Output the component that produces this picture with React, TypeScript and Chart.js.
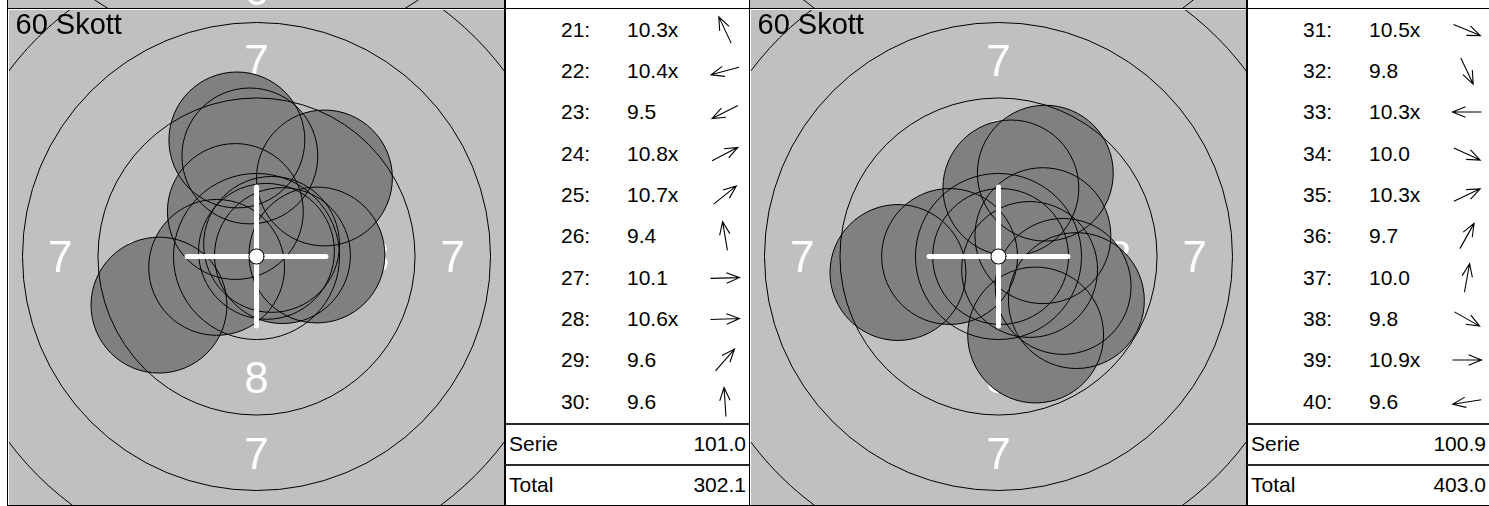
import React, { useEffect, useRef } from "react";
import { Chart, registerables } from "chart.js";

Chart.register(...registerables);

// ---------------- data ----------------
const SHOT_NO_A = ["21", "22", "23", "24", "25", "26", "27", "28", "29", "30"];
const SCORE_A = ["10.3x", "10.4x", "9.5", "10.8x", "10.7x", "9.4", "10.1", "10.6x", "9.6", "9.6"];
const SHOT_X_A = [-0.70, -1.32, -3.23, 0.33, 0.50, -0.65, 2.0, 0.86, 2.25, -0.22];
const SHOT_Y_A = [1.49, -0.36, -1.61, 0.17, 0.40, 3.86, 0.05, 0.03, 2.60, 3.33];
const SERIE_A = "101.0";
const TOTAL_A = "302.1";

const SHOT_NO_B = ["31", "32", "33", "34", "35", "36", "37", "38", "39", "40"];
const SCORE_B = ["10.5x", "9.8", "10.3x", "10.0", "10.3x", "9.7", "10.0", "9.8", "10.9x", "9.6"];
const SHOT_X_B = [1.03, 1.23, -1.62, 2.14, 1.47, 1.55, 0.41, 2.58, 0.07, -3.33];
const SHOT_Y_B = [-0.43, -2.60, 0.0, -0.99, 0.69, 2.76, 2.27, -1.46, 0.0, -0.53];
const SERIE_B = "100.9";
const TOTAL_B = "403.0";

const TITLE = "60 Skott";
const SUM_LABELS = ["Serie", "Total"];
const RING_RADII = [0.25, 2.75, 5.25, 7.75, 10.25, 12.75]; // mm
const RING_NUMBERS = ["8", "7", "6"];
const RING_NUMBER_R = [4.0, 6.5, 9.0]; // mm
const PELLET_R = 2.25; // mm
const VIEW = 8.23; // mm half-width of the view

// ---------------- styles ----------------
const FONT = '"Liberation Sans", Arial, Helvetica, sans-serif';
const GRAY = "#c0c0c0";
const SHOT_FILL = "#808080";
const NUM_FONT_PX = 44;

type PrevStrip = { rings: number[]; digit: string | null };

function makePlugin(prev: PrevStrip) {
  return {
    id: "target",
    beforeDatasetsDraw(chart: any) {
      const { ctx, chartArea: a, scales } = chart;
      const cx = scales.x.getPixelForValue(0);
      const cy = scales.y.getPixelForValue(0);
      const ppm = scales.x.getPixelForValue(1) - cx;
      const H = a.bottom - a.top;
      const W = a.right - a.left;

      // strip of the previous row above
      ctx.save();
      ctx.beginPath();
      ctx.rect(a.left, 0, W, a.top);
      ctx.clip();
      ctx.fillStyle = GRAY;
      ctx.fillRect(a.left, 0, W, a.top);
      const pcy = cy - H;
      if (prev.digit) {
        ctx.fillStyle = "#fff";
        ctx.font = `${NUM_FONT_PX}px ${FONT}`;
        ctx.textAlign = "center";
        ctx.textBaseline = "alphabetic";
        ctx.fillText(prev.digit, cx, 5);
      }
      ctx.strokeStyle = "#000";
      ctx.lineWidth = 1;
      prev.rings.forEach((r) => {
        ctx.beginPath();
        ctx.arc(cx, pcy, r * ppm, 0, Math.PI * 2);
        ctx.stroke();
      });
      ctx.restore();

      // target background + numbers
      ctx.save();
      ctx.beginPath();
      ctx.rect(a.left, a.top, W, H);
      ctx.clip();
      ctx.fillStyle = GRAY;
      ctx.fillRect(a.left, a.top, W, H);
      ctx.fillStyle = "#fff";
      ctx.font = `${NUM_FONT_PX}px ${FONT}`;
      ctx.textAlign = "center";
      ctx.textBaseline = "alphabetic";
      const dirs = [
        [0, -1],
        [0, 1],
        [-1, 0],
        [1, 0],
      ];
      RING_NUMBERS.forEach((n, i) => {
        const d = RING_NUMBER_R[i] * ppm;
        dirs.forEach(([dx, dy]) => {
          ctx.fillText(n, cx + dx * d, cy + dy * d + 0.358 * NUM_FONT_PX);
        });
      });
      ctx.restore();
    },
    afterDatasetDraw(chart: any, args: any) {
      if (chart.data.datasets[args.index].label !== "fill") return;
      const { ctx, chartArea: a, scales } = chart;
      const cx = scales.x.getPixelForValue(0);
      const cy = scales.y.getPixelForValue(0);
      const ppm = scales.x.getPixelForValue(1) - cx;
      ctx.save();
      ctx.beginPath();
      ctx.rect(a.left, a.top, a.right - a.left, a.bottom - a.top);
      ctx.clip();
      ctx.strokeStyle = "#000";
      ctx.lineWidth = 1;
      RING_RADII.forEach((r) => {
        ctx.beginPath();
        ctx.arc(cx, cy, r * ppm, 0, Math.PI * 2);
        ctx.stroke();
      });
      ctx.restore();
    },
    afterDatasetsDraw(chart: any) {
      const { ctx, chartArea: a, scales } = chart;
      const cx = scales.x.getPixelForValue(0);
      const cy = scales.y.getPixelForValue(0);
      const ppm = scales.x.getPixelForValue(1) - cx;
      const arm = 2.3 * ppm;
      ctx.save();
      ctx.strokeStyle = "#fff";
      ctx.lineWidth = 5;
      ctx.lineCap = "round";
      ctx.beginPath();
      ctx.moveTo(cx - arm, cy);
      ctx.lineTo(cx + arm, cy);
      ctx.moveTo(cx, cy - arm);
      ctx.lineTo(cx, cy + arm);
      ctx.stroke();
      ctx.beginPath();
      ctx.arc(cx, cy, RING_RADII[0] * ppm, 0, Math.PI * 2);
      ctx.fillStyle = "#fff";
      ctx.fill();
      ctx.strokeStyle = "#000";
      ctx.lineWidth = 1;
      ctx.stroke();

      // frame
      const bottom = chart.height;
      ctx.lineCap = "butt";
      ctx.strokeStyle = "#fff";
      ctx.beginPath();
      ctx.moveTo(a.left + 0.5, a.top);
      ctx.lineTo(a.left + 0.5, a.bottom);
      ctx.moveTo(a.left, a.top + 1.5);
      ctx.lineTo(a.right, a.top + 1.5);
      ctx.stroke();
      ctx.strokeStyle = "#000";
      ctx.beginPath();
      ctx.moveTo(a.left - 0.5, 0);
      ctx.lineTo(a.left - 0.5, bottom);
      ctx.moveTo(a.right - 0.5, 0);
      ctx.lineTo(a.right - 0.5, bottom);
      ctx.moveTo(a.left - 1, a.top + 0.5);
      ctx.lineTo(a.right, a.top + 0.5);
      ctx.moveTo(a.left - 1, a.bottom + 0.5);
      ctx.lineTo(a.right, a.bottom + 0.5);
      ctx.stroke();
      ctx.restore();
    },
  };
}

function TargetPanel({ left, xs, ys, prev }: { left: number; xs: number[]; ys: number[]; prev: PrevStrip }) {
  const ref = useRef<HTMLCanvasElement>(null);
  useEffect(() => {
    const pts = xs.map((x, i) => ({ x, y: ys[i] }));
    const rFn = (c: any) => {
      const s = c.chart.scales.x;
      return s ? Math.abs(s.getPixelForValue(PELLET_R) - s.getPixelForValue(0)) : 0;
    };
    const chart = new Chart(ref.current as HTMLCanvasElement, {
      type: "scatter",
      data: {
        datasets: [
          {
            label: "outline",
            data: pts,
            order: 1,
            clip: 0,
            pointRadius: rFn,
            pointHoverRadius: rFn,
            pointBackgroundColor: "rgba(0,0,0,0)",
            pointBorderColor: "#000",
            pointBorderWidth: 1,
            backgroundColor: "rgba(0,0,0,0)",
            borderColor: "#000",
          } as any,
          {
            label: "fill",
            data: pts,
            order: 2,
            clip: 0,
            pointRadius: rFn,
            pointHoverRadius: rFn,
            pointBackgroundColor: SHOT_FILL,
            pointBorderWidth: 0,
            backgroundColor: SHOT_FILL,
            borderColor: "rgba(0,0,0,0)",
          } as any,
        ],
      },
      options: {
        responsive: false,
        animation: false,
        devicePixelRatio: 1,
        events: [],
        layout: { padding: { left: 8, top: 8, right: 0, bottom: 1 } },
        scales: {
          x: { type: "linear", min: -VIEW, max: VIEW, display: false },
          y: { type: "linear", min: -VIEW, max: VIEW, display: false },
        },
        plugins: { legend: { display: false }, tooltip: { enabled: false }, title: { display: false } },
      },
      plugins: [makePlugin(prev) as any],
    });
    return () => chart.destroy();
  }, []);
  return (
    <>
      <canvas
        ref={ref}
        width={505}
        height={506}
        style={{ position: "absolute", left, top: 0, width: 505, height: 506 }}
      />
      <div
        style={{
          position: "absolute",
          left: left + 15.5,
          top: 9.5,
          fontFamily: FONT,
          fontSize: 29,
          lineHeight: "29px",
          color: "#000",
          whiteSpace: "nowrap",
        }}
      >
        {TITLE}
      </div>
    </>
  );
}

function Arrow({ dx, dy, cx, cy }: { dx: number; dy: number; cx: number; cy: number }) {
  const L = 14.5;
  const Hd = 14;
  const ang = 0.38;
  const len = Math.hypot(dx, dy) || 1;
  const ux = dx / len;
  const uy = dy / len;
  const tx = 20 + ux * L;
  const ty = 20 + uy * L;
  const sx = 20 - ux * L;
  const sy = 20 - uy * L;
  const bx = -ux;
  const by = -uy;
  const rot = (a: number) => [bx * Math.cos(a) - by * Math.sin(a), bx * Math.sin(a) + by * Math.cos(a)];
  const [h1x, h1y] = rot(ang);
  const [h2x, h2y] = rot(-ang);
  const d = `M${sx} ${sy}L${tx} ${ty}M${tx + h1x * Hd} ${ty + h1y * Hd}L${tx} ${ty}L${tx + h2x * Hd} ${ty + h2y * Hd}`;
  return (
    <svg width={40} height={40} viewBox="0 0 40 40" style={{ position: "absolute", left: cx - 20, top: cy - 20 }}>
      <path d={d} stroke="#000" strokeWidth={1.1} fill="none" strokeLinejoin="miter" />
    </svg>
  );
}

function ScoreTable({
  left,
  width,
  nos,
  scores,
  xs,
  ys,
  serie,
  total,
}: {
  left: number;
  width: number;
  nos: string[];
  scores: string[];
  xs: number[];
  ys: number[];
  serie: string;
  total: string;
}) {
  const line = (top: number, h: number, color = "#000") => (
    <div style={{ position: "absolute", left: 0, top, width, height: h, background: color }} />
  );
  const sums = [serie, total];
  const sumCenters = [444, 485];
  return (
    <div
      style={{
        position: "absolute",
        left,
        top: 0,
        width,
        height: 506,
        fontFamily: FONT,
        fontSize: 21,
        color: "#000",
        background: "#fff",
      }}
    >
      <div style={{ position: "absolute", left: 0, top: 0, width: 1, height: 506, background: "#000" }} />
      {line(8, 1)}
      {line(423, 2, "#2a2a2a")}
      {line(464, 2, "#2a2a2a")}
      {line(505, 1)}
      {nos.map((n, i) => {
        const c = 29.5 + 41.35 * i;
        return (
          <React.Fragment key={n}>
            <div style={{ position: "absolute", left: 56, top: c - 20, height: 40, lineHeight: "40px" }}>{n}:</div>
            <div style={{ position: "absolute", left: 122, top: c - 20, height: 40, lineHeight: "40px" }}>
              {scores[i]}
            </div>
            <Arrow dx={xs[i]} dy={-ys[i]} cx={220} cy={c} />
          </React.Fragment>
        );
      })}
      {SUM_LABELS.map((lab, i) => (
        <React.Fragment key={lab}>
          <div style={{ position: "absolute", left: 4, top: sumCenters[i] - 20, height: 40, lineHeight: "40px" }}>
            {lab}
          </div>
          <div
            style={{
              position: "absolute",
              right: 3,
              top: sumCenters[i] - 20,
              height: 40,
              lineHeight: "40px",
              textAlign: "right",
            }}
          >
            {sums[i]}
          </div>
        </React.Fragment>
      ))}
    </div>
  );
}

export default function App() {
  return (
    <div
      style={{
        position: "fixed",
        left: 0,
        top: 0,
        width: 1489,
        height: 506,
        background: "#fff",
        overflow: "hidden",
      }}
    >
      <TargetPanel left={0} xs={SHOT_X_A} ys={SHOT_Y_A} prev={{ rings: [9.6], digit: "6" }} />
      <ScoreTable
        left={505}
        width={244}
        nos={SHOT_NO_A}
        scores={SCORE_A}
        xs={SHOT_X_A}
        ys={SHOT_Y_A}
        serie={SERIE_A}
        total={TOTAL_A}
      />
      <TargetPanel left={742} xs={SHOT_X_B} ys={SHOT_Y_B} prev={{ rings: RING_RADII, digit: null }} />
      <ScoreTable
        left={1247}
        width={242}
        nos={SHOT_NO_B}
        scores={SCORE_B}
        xs={SHOT_X_B}
        ys={SHOT_Y_B}
        serie={SERIE_B}
        total={TOTAL_B}
      />
    </div>
  );
}
